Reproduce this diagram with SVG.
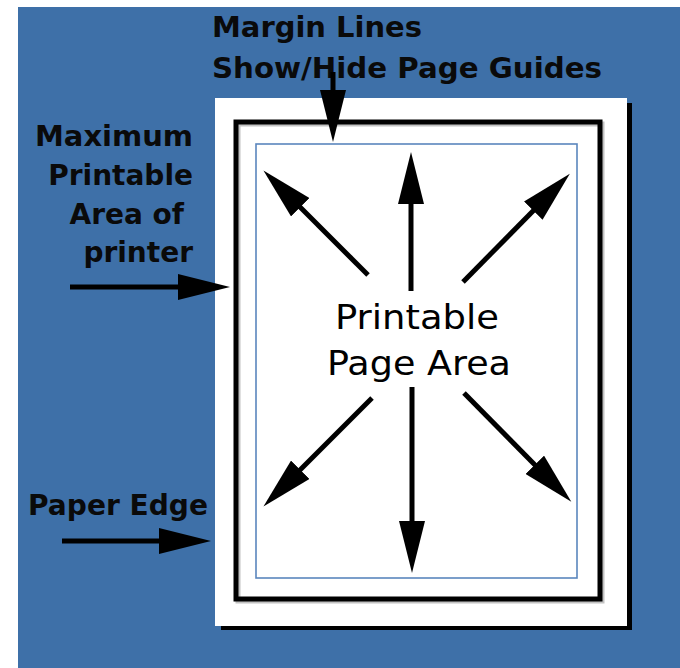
<svg xmlns="http://www.w3.org/2000/svg" width="680" height="668" viewBox="0 0 680 668">
<style>
.lbl{font-family:"DejaVu Sans","Liberation Sans",sans-serif;font-weight:bold;font-size:28px;fill:#0a0a0a}
.ctr{font-family:"DejaVu Sans","Liberation Sans",sans-serif;font-size:34px;fill:#000;text-anchor:middle}
.arr{stroke:#000;stroke-width:5;fill:none;marker-end:url(#head)}
</style>
<defs>
<marker id="head" viewBox="0 0 52 26" refX="1" refY="13" markerWidth="52" markerHeight="26" markerUnits="userSpaceOnUse" orient="auto">
<path d="M0,0 L52,13 L0,26 Z" fill="#000"/>
</marker>
</defs>
<rect x="0" y="0" width="680" height="668" fill="#fff"/>
<rect id="background" x="18" y="7" width="662" height="661" fill="#3e70a8"/>
<g id="paper">
<rect x="221" y="103" width="411" height="527" fill="#000"/>
<rect x="215" y="98" width="412" height="528" fill="#fff"/>
</g>
<g id="max-printable-area">
<rect x="238" y="124" width="364" height="477" fill="none" stroke="#999" stroke-width="5" opacity="0.6"/>
<rect x="236" y="122" width="364" height="477" fill="none" stroke="#000" stroke-width="5"/>
</g>
<g id="margin-lines">
<rect x="256" y="144" width="321" height="434" fill="none" stroke="#5b86bd" stroke-width="1.6"/>
</g>
<g id="printable-page-area">
<text class="ctr" x="417" y="329" textLength="164" lengthAdjust="spacingAndGlyphs">Printable</text>
<text class="ctr" x="419" y="375" textLength="184" lengthAdjust="spacingAndGlyphs">Page Area</text>
</g>
<g id="label-margin">
<text class="lbl" x="212" y="37" textLength="210" lengthAdjust="spacingAndGlyphs">Margin Lines</text>
<text class="lbl" x="212" y="78" textLength="390" lengthAdjust="spacingAndGlyphs">Show/Hide Page Guides</text>
</g>
<g id="label-max">
<text class="lbl" x="193" y="146" text-anchor="end" textLength="158" lengthAdjust="spacingAndGlyphs">Maximum</text>
<text class="lbl" x="193" y="185" text-anchor="end">Printable</text>
<text class="lbl" x="184" y="224" text-anchor="end">Area of</text>
<text class="lbl" x="193" y="262" text-anchor="end">printer</text>
</g>
<g id="label-paper">
<text class="lbl" x="28" y="515" textLength="180" lengthAdjust="spacingAndGlyphs">Paper Edge</text>
</g>
<g id="connectors">
<line class="arr" x1="333" y1="72" x2="333" y2="91"/>
<line class="arr" x1="70" y1="287" x2="179" y2="287"/>
<line class="arr" x1="62" y1="541" x2="160" y2="541"/>
<line class="arr" x1="368" y1="275" x2="299.5" y2="206.5"/>
<line class="arr" x1="411" y1="291" x2="411" y2="203"/>
<line class="arr" x1="463" y1="282" x2="534" y2="210"/>
<line class="arr" x1="412" y1="387" x2="412" y2="522"/>
<line class="arr" x1="372" y1="398" x2="299.5" y2="470.5"/>
<line class="arr" x1="464" y1="393" x2="535.5" y2="465.5"/>
</g>
</svg>
